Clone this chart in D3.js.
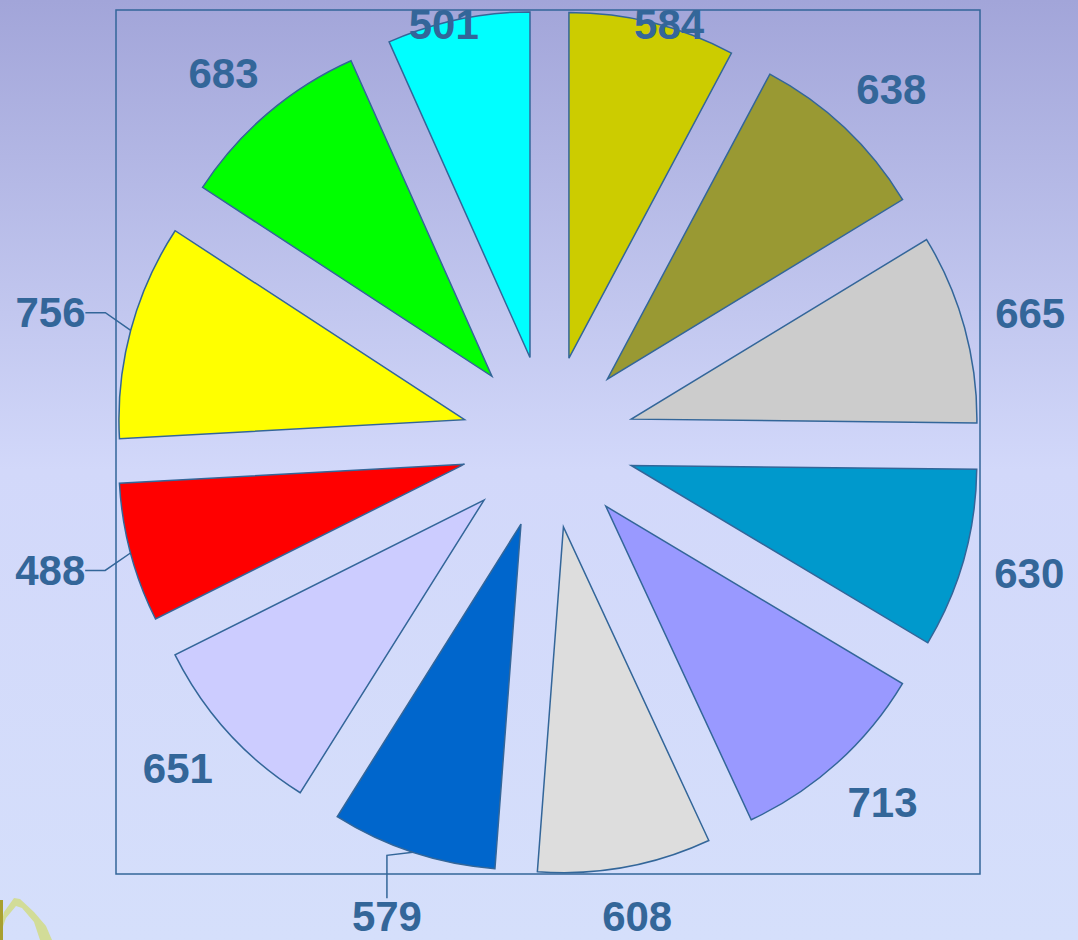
<!DOCTYPE html>
<html>
<head>
<meta charset="utf-8">
<script src="https://cdn.jsdelivr.net/npm/d3@7"></script>
<style>
  html, body { margin: 0; padding: 0; overflow: hidden; }
  svg { display: block; }
</style>
</head>
<body>
<svg id="pieChart" width="1078" height="940"></svg>
<script>
// slice values, clockwise from 12 o'clock
const values = [584, 638, 665, 630, 713, 608, 579, 651, 488, 756, 683, 501];
const colors = ["#cccc00", "#999933", "#cccccc", "#0099cc", "#9999ff", "#dddddd",
                "#0066cc", "#ccccff", "#ff0000", "#ffff00", "#00ff00", "#00ffff"];
const leaderLabels = [756, 488, 579];

const svg = d3.select("#pieChart");
const width = 1078, height = 940;
const cx = 548, cy = 442;
const outerR = 432;              // box half size
const explode = 0.2 * outerR;    // slice offset
const radius = outerR - explode;
const lineColor = "#336699";

// background
const defs = svg.append("defs");
const grad = defs.append("linearGradient").attr("id", "bg")
    .attr("x1", 0).attr("y1", 0).attr("x2", 0).attr("y2", 1);
grad.append("stop").attr("offset", "0%").attr("stop-color", "#a2a5d9");
grad.append("stop").attr("offset", "50%").attr("stop-color", "#d2d8fa");
grad.append("stop").attr("offset", "100%").attr("stop-color", "#d5dffb");
svg.append("rect").attr("width", width).attr("height", height).attr("fill", "url(#bg)");

// little decoration in the bottom left corner
svg.append("path")
    .attr("d", "M0,930 L4,912 L14,898 L20,899 L34,912 L46,926 L52,940 L40,940 L34,922 L22,908 L16,906 L6,918 L0,935 Z")
    .attr("fill", "#d2dc98");
svg.append("rect").attr("x", 0).attr("y", 900).attr("width", 3).attr("height", 40).attr("fill", "#a8a030");

const g = svg.append("g").attr("transform", `translate(${cx},${cy})`);

// plot frame
g.append("rect")
    .attr("x", -outerR).attr("y", -outerR)
    .attr("width", 2 * outerR).attr("height", 2 * outerR)
    .attr("fill", "none")
    .attr("stroke", lineColor)
    .attr("stroke-width", 1.5);

const pie = d3.pie().sort(null).value(d => d);
const arcs = pie(values);
const arc = d3.arc().innerRadius(0).outerRadius(radius);

const mid = d => (d.startAngle + d.endAngle) / 2;
const polar = (a, r) => [r * Math.sin(a), -r * Math.cos(a)];

g.selectAll(".slice")
    .data(arcs)
    .enter()
    .append("path")
    .attr("class", "slice")
    .attr("transform", d => {
        const [x, y] = polar(mid(d), explode);
        return `translate(${x},${y})`;
    })
    .attr("d", arc)
    .attr("fill", (d, i) => colors[i])
    .attr("stroke", lineColor)
    .attr("stroke-width", 1.5)
    .attr("stroke-linejoin", "miter");

// labels
const fontSize = 42;
const labelPos = d => {
    const a = mid(d);
    const boost = leaderLabels.includes(d.data) ? 15 : 0;
    let x = (500 + boost) * Math.sin(a);
    let y = -(485 + boost) * Math.cos(a);
    // keep labels inside the page
    y = Math.max(y, -cy + 24);
    y = Math.min(y, height - cy - 24);
    return [x, y];
};

g.selectAll(".label")
    .data(arcs)
    .enter()
    .append("text")
    .attr("class", "label")
    .attr("x", d => labelPos(d)[0])
    .attr("y", d => labelPos(d)[1])
    .attr("text-anchor", "middle")
    .attr("dominant-baseline", "central")
    .attr("font-family", "'Liberation Sans', Arial, sans-serif")
    .attr("font-weight", "bold")
    .attr("font-size", fontSize)
    .attr("fill", lineColor)
    .text(d => d.data);

// leader lines for the labels that sit far from their slice
const leaders = arcs.filter(d => leaderLabels.includes(d.data));
g.selectAll(".leader")
    .data(leaders)
    .enter()
    .append("path")
    .attr("class", "leader")
    .attr("fill", "none")
    .attr("stroke", lineColor)
    .attr("stroke-width", 1.5)
    .attr("d", d => {
        const a = mid(d);
        const [ax, ay] = polar(a, explode + radius);
        const [lx, ly] = labelPos(d);
        const halfW = 0.83 * fontSize, halfH = 0.42 * fontSize;
        const horiz = Math.abs(Math.sin(a)) > 0.7;
        let ex, ey, ox, oy;
        if (horiz) {
            const s = Math.sign(Math.sin(a));
            ex = lx - s * halfW; ey = ly;
            ox = ex - s * 20; oy = ey;
        } else {
            const s = Math.sign(-Math.cos(a));
            ex = lx; ey = ly - s * halfH;
            ox = ex; oy = ay + 3;
        }
        return `M${ax},${ay}L${ox},${oy}L${ex},${ey}`;
    });
</script>
</body>
</html>
